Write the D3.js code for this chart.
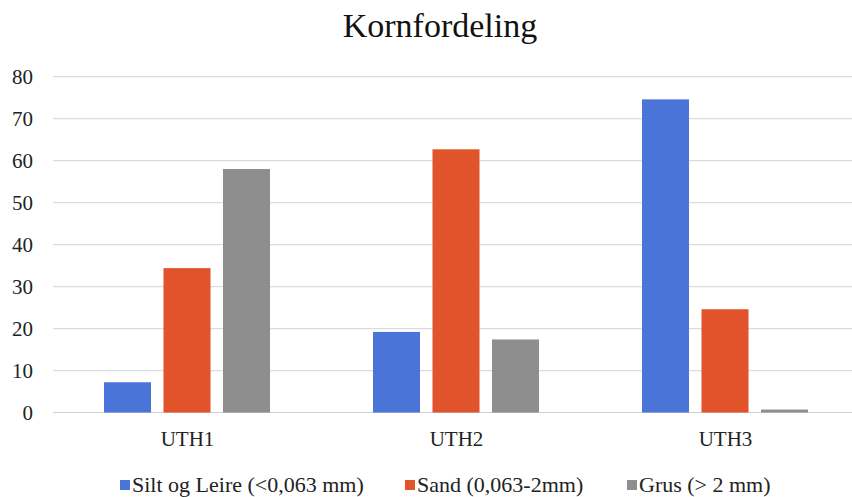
<!DOCTYPE html>
<html>
<head>
<meta charset="utf-8">
<script src="https://cdn.jsdelivr.net/npm/d3@7"></script>
<style>
  html, body { margin: 0; padding: 0; background: #fff; }
  svg text { font-family: "Liberation Serif", "Times New Roman", serif !important; }
</style>
</head>
<body>
<svg id="chart" width="852" height="497"></svg>
<script>
// Grain-size distribution (percent) per sample
const categories = ["UTH1", "UTH2", "UTH3"];
const seriesNames = ["Silt og Leire (<0,063 mm)", "Sand (0,063-2mm)", "Grus (> 2 mm)"];
const siltLeire = [7.2, 19.2, 74.6];
const sand = [34.4, 62.7, 24.6];
const grus = [58.0, 17.4, 0.7];
const yTicks = [0, 10, 20, 30, 40, 50, 60, 70, 80];
const colors = ["#4a74d8", "#e0532b", "#8e8e8e"];

const seriesValues = [siltLeire, sand, grus];
const rows = categories.map((c, i) => ({
  category: c,
  values: seriesNames.map((s, k) => ({ key: k, value: seriesValues[k][i] }))
}));

const serif = "'Liberation Serif', 'Times New Roman', serif";
const svg = d3.select("#chart");
const width = 852;

const x0 = d3.scaleBand().domain(categories).range([53, 860]).padding(0);
const x1 = d3.scaleBand().domain(d3.range(seriesNames.length)).range([51, 217]).paddingInner(0.21).paddingOuter(0);
const y = d3.scaleLinear().domain([0, 80]).range([412.5, 76.7]);

// Title
svg.append("text")
  .attr("x", 440).attr("y", 37)
  .attr("text-anchor", "middle")
  .style("font-family", serif)
  .style("font-size", "34px")
  .attr("fill", "#111")
  .text("Kornfordeling");

// Horizontal gridlines
svg.append("g")
  .selectAll("line")
  .data(yTicks)
  .join("line")
  .attr("x1", 53).attr("x2", width)
  .attr("y1", d => y(d)).attr("y2", d => y(d))
  .attr("stroke", d => d === 0 ? "#cfcfcf" : "#dcdcdc")
  .attr("stroke-width", 1.2);

// Y axis labels
const yAxis = d3.axisLeft(y).tickValues(yTicks).tickSize(0).tickPadding(0);
const yg = svg.append("g").attr("transform", "translate(33,0)").call(yAxis);
yg.attr("font-family", null).attr("font-size", null);
yg.select(".domain").remove();
yg.selectAll("text")
  .style("font-family", serif)
  .style("font-size", "21px")
  .attr("fill", "#222");

// Bars
const groups = svg.append("g")
  .selectAll("g")
  .data(rows)
  .join("g")
  .attr("transform", d => `translate(${x0(d.category)},0)`);

groups.selectAll("rect")
  .data(d => d.values)
  .join("rect")
  .attr("x", d => x1(d.key))
  .attr("width", x1.bandwidth())
  .attr("y", d => y(d.value))
  .attr("height", d => y(0) - y(d.value))
  .attr("fill", d => colors[d.key]);

// Category labels
const xAxis = d3.axisBottom(x0).tickSize(0).tickPadding(0);
const xg = svg.append("g").attr("transform", "translate(0,431)").call(xAxis);
xg.attr("font-family", null).attr("font-size", null);
xg.select(".domain").remove();
xg.selectAll("text")
  .style("font-family", serif)
  .style("font-size", "21px")
  .attr("fill", "#222");

// Legend
const legendX = [120, 405, 627];
const legend = svg.append("g")
  .selectAll("g")
  .data(seriesNames)
  .join("g")
  .attr("transform", (d, i) => `translate(${legendX[i]},0)`);

legend.append("rect")
  .attr("x", 0).attr("y", 480)
  .attr("width", 10).attr("height", 10)
  .attr("fill", (d, i) => colors[i]);

legend.append("text")
  .attr("x", 12).attr("y", 492)
  .style("font-family", serif)
  .style("font-size", "22px")
  .attr("fill", "#222")
  .text(d => d);
</script>
</body>
</html>
